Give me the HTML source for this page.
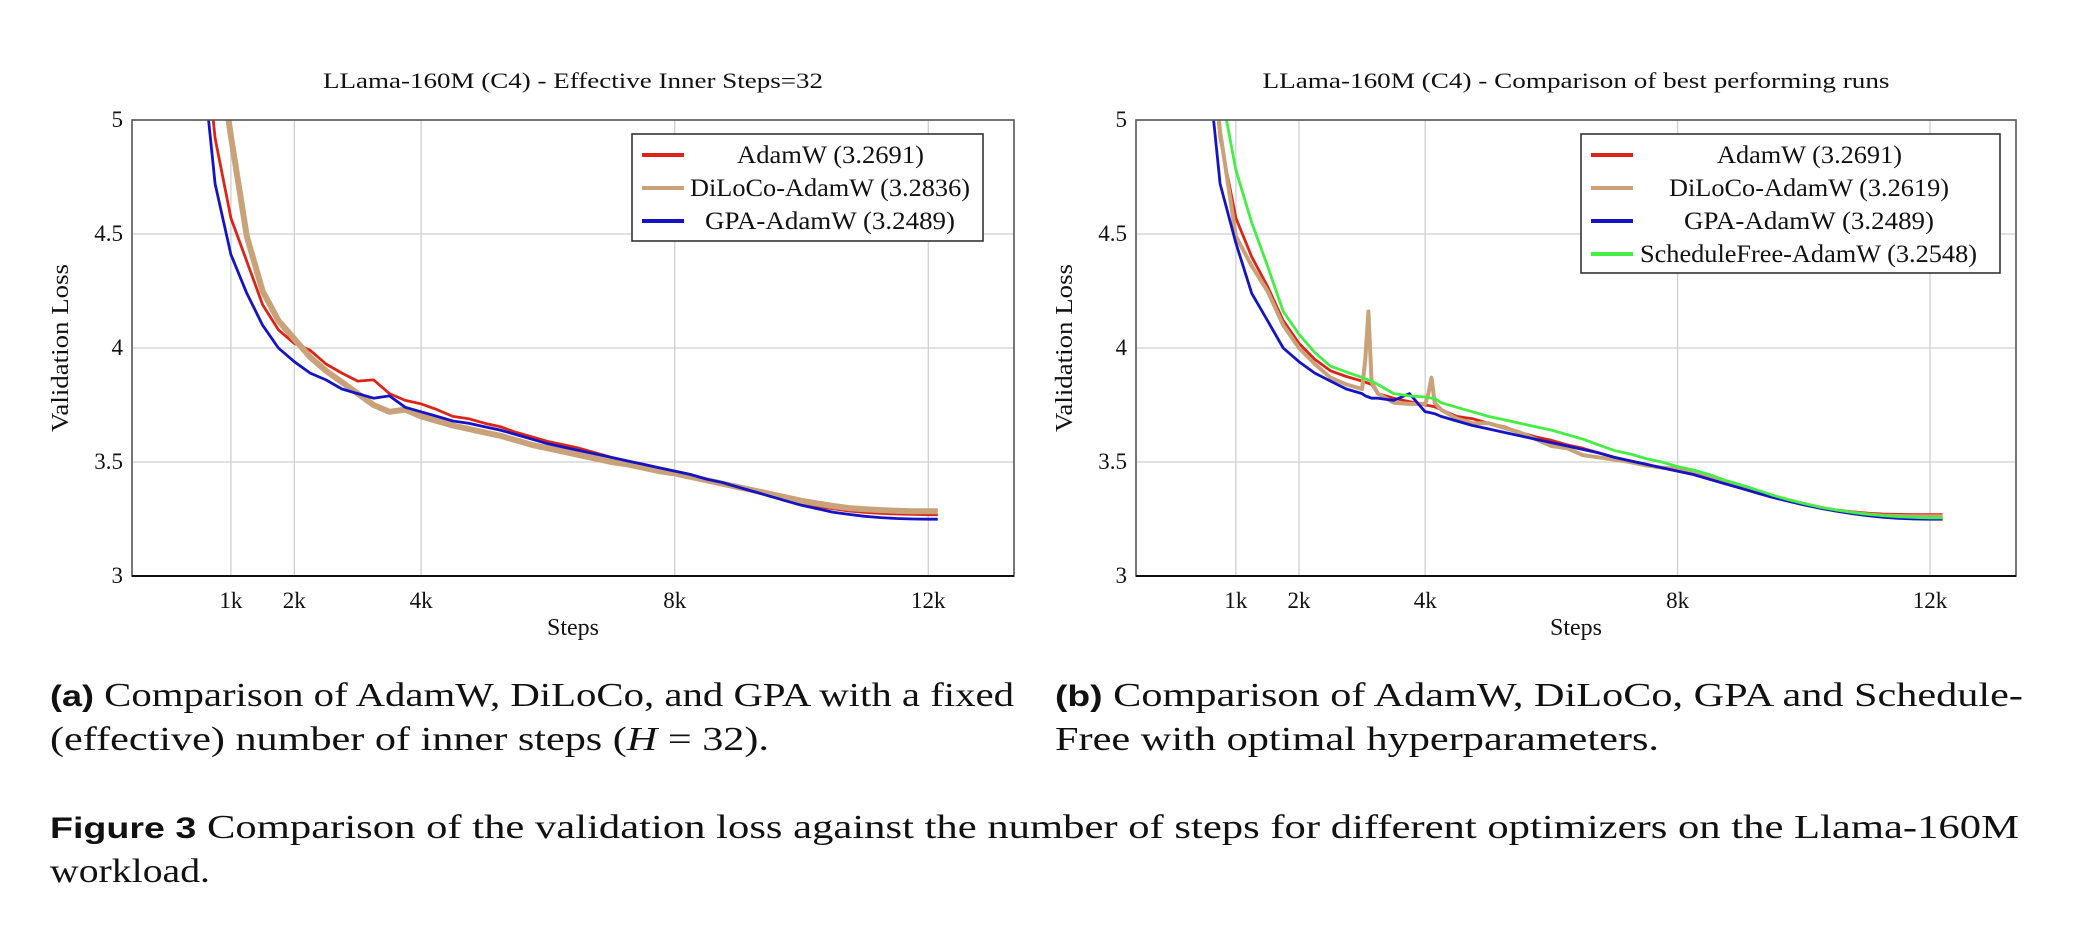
<!DOCTYPE html>
<html><head><meta charset="utf-8"><style>
html,body{margin:0;padding:0;background:#fff;}
svg{display:block;}
text{font-family:"Liberation Serif",serif;fill:#111;}
.sans{font-family:"Liberation Sans",sans-serif;font-weight:bold;}
</style></head><body>
<svg id="fig" width="2076" height="938" viewBox="0 0 2076 938">
<defs>
<clipPath id="clipL"><rect x="132" y="120" width="882" height="456"/></clipPath>
<clipPath id="clipR"><rect x="1136" y="120" width="880" height="456"/></clipPath>
</defs>
<g id="chartL"></g>
<g id="chartR"></g>
<text x="50" y="706" font-size="34" textLength="964" lengthAdjust="spacingAndGlyphs"><tspan class="sans" font-size="30">(a)</tspan> Comparison of AdamW, DiLoCo, and GPA with a fixed</text>
<text x="50" y="750" font-size="34" textLength="719" lengthAdjust="spacingAndGlyphs">(effective) number of inner steps (<tspan font-style="italic">H</tspan> = 32).</text>
<text x="1055" y="706" font-size="34" textLength="968" lengthAdjust="spacingAndGlyphs"><tspan class="sans" font-size="30">(b)</tspan> Comparison of AdamW, DiLoCo, GPA and Schedule-</text>
<text x="1055" y="750" font-size="34" textLength="604" lengthAdjust="spacingAndGlyphs">Free with optimal hyperparameters.</text>
<text x="50" y="838" font-size="34" textLength="1969" lengthAdjust="spacingAndGlyphs"><tspan class="sans" font-size="30">Figure 3</tspan> Comparison of the validation loss against the number of steps for different optimizers on the Llama-160M</text>
<text x="50" y="882" font-size="34" textLength="160" lengthAdjust="spacingAndGlyphs">workload.</text>
</svg>
<script>
const leftSteps=[500,750,1000,1250,1500,1750,2000,2250,2500,2750,3000,3250,3500,3750,4000,4250,4500,4750,5000,5250,5500,5750,6000,6250,6500,6750,7000,7250,7500,7750,8000,8250,8500,8750,9000,9250,9500,9750,10000,10250,10500,10750,11000,11250,11500,11750,12000,12150];
const leftAdamW=[5.6,4.92,4.57,4.38,4.19,4.08,4.02,3.99,3.93,3.89,3.855,3.86,3.80,3.77,3.755,3.73,3.70,3.69,3.67,3.655,3.63,3.61,3.59,3.575,3.56,3.54,3.52,3.505,3.49,3.475,3.46,3.445,3.425,3.41,3.39,3.37,3.35,3.335,3.318,3.305,3.295,3.285,3.279,3.275,3.272,3.270,3.269,3.269];
const leftDiLoCo=[6.2,5.4,4.93,4.49,4.25,4.12,4.04,3.96,3.9,3.85,3.80,3.75,3.72,3.73,3.70,3.68,3.66,3.645,3.63,3.615,3.595,3.575,3.56,3.545,3.53,3.515,3.50,3.49,3.475,3.46,3.45,3.435,3.42,3.405,3.39,3.375,3.36,3.345,3.33,3.318,3.307,3.298,3.293,3.289,3.286,3.284,3.284,3.284];
const leftGPA=[5.4,4.72,4.41,4.24,4.1,4.0,3.94,3.89,3.86,3.82,3.80,3.78,3.79,3.74,3.72,3.70,3.68,3.67,3.655,3.64,3.62,3.6,3.58,3.565,3.55,3.535,3.52,3.505,3.49,3.475,3.46,3.445,3.425,3.41,3.39,3.37,3.35,3.33,3.31,3.295,3.28,3.27,3.262,3.256,3.252,3.25,3.249,3.249];

const rightSteps=[500,750,1000,1250,1500,1750,2000,2250,2500,2750,3000,3050,3100,3150,3250,3500,3750,4000,4050,4100,4150,4250,4500,4750,5000,5250,5500,5750,6000,6250,6500,6750,7000,7250,7500,7750,8000,8250,8500,8750,9000,9250,9500,9750,10000,10250,10500,10750,11000,11250,11500,11750,12000,12200];
const rightAdamW=[5.6,4.92,4.57,4.4,4.27,4.12,4.02,3.95,3.9,3.875,3.855,3.85,3.845,3.84,3.80,3.78,3.765,3.75,3.748,3.745,3.742,3.73,3.70,3.69,3.67,3.655,3.63,3.61,3.595,3.575,3.56,3.54,3.52,3.505,3.49,3.475,3.46,3.445,3.425,3.405,3.385,3.365,3.345,3.33,3.315,3.3,3.29,3.282,3.276,3.272,3.27,3.269,3.269,3.269];
const rightDiLoCo=[5.6,4.95,4.49,4.36,4.25,4.1,4.0,3.93,3.87,3.84,3.82,3.95,4.16,3.85,3.80,3.76,3.755,3.755,3.80,3.87,3.76,3.73,3.69,3.67,3.67,3.65,3.63,3.6,3.57,3.56,3.53,3.52,3.51,3.50,3.485,3.475,3.47,3.45,3.43,3.41,3.39,3.37,3.35,3.333,3.316,3.3,3.288,3.278,3.27,3.265,3.263,3.262,3.262,3.262];
const rightGPA=[5.4,4.72,4.46,4.24,4.12,4.0,3.94,3.89,3.855,3.82,3.80,3.79,3.785,3.78,3.78,3.77,3.80,3.72,3.718,3.715,3.712,3.70,3.68,3.66,3.645,3.63,3.615,3.60,3.585,3.57,3.555,3.54,3.52,3.505,3.49,3.475,3.46,3.445,3.425,3.405,3.385,3.365,3.345,3.328,3.312,3.298,3.285,3.274,3.265,3.258,3.253,3.25,3.249,3.249];
const rightSF=[5.9,5.15,4.78,4.55,4.36,4.16,4.06,3.98,3.92,3.895,3.87,3.865,3.86,3.855,3.84,3.80,3.79,3.785,3.783,3.78,3.778,3.76,3.74,3.72,3.70,3.685,3.67,3.655,3.64,3.62,3.6,3.575,3.55,3.535,3.515,3.50,3.48,3.465,3.445,3.42,3.40,3.378,3.355,3.335,3.318,3.302,3.29,3.28,3.271,3.265,3.26,3.257,3.255,3.255];

const xTicks=[1000,2000,4000,8000,12000];
const xTickLabels=["1k","2k","4k","8k","12k"];
const yTicks=[3,3.5,4,4.5,5];
const yTickLabels=["3","3.5","4","4.5","5"];
const legendLeft=["AdamW (3.2691)","DiLoCo-AdamW (3.2836)","GPA-AdamW (3.2489)"];
const legendRight=["AdamW (3.2691)","DiLoCo-AdamW (3.2619)","GPA-AdamW (3.2489)","ScheduleFree-AdamW (3.2548)"];

const NS="http://www.w3.org/2000/svg";
function mk(parent,tag,attrs,txt){const e=document.createElementNS(NS,tag);for(const k in attrs)e.setAttribute(k,attrs[k]);if(txt!==undefined)e.textContent=txt;parent.appendChild(e);return e;}

function drawChart(g,cfg){
  const L=cfg.left,R=cfg.right,T=120,B=576;
  const xs=s=>cfg.x2k+(s-2000)*cfg.k;
  const ys=v=>B-(v-3)*(B-T)/2;
  xTicks.forEach((t,i)=>{
    const gl=mk(g,'line',{x1:xs(t),x2:xs(t),y1:T,y2:B,stroke:'#cfcfcf','stroke-width':1.3});
    
    
    const tl=mk(g,'text',{x:xs(t),y:B+32,'font-size':23,'text-anchor':'middle'},xTickLabels[i]);
    
    
  });
  yTicks.forEach((t,i)=>{
    const gl=mk(g,'line',{x1:L,x2:R,y1:ys(t),y2:ys(t),stroke:'#cfcfcf','stroke-width':1.3});
    
    
    const tl=mk(g,'text',{x:L-9,y:ys(t)+7,'font-size':23,'text-anchor':'end'},yTickLabels[i]);
    
    
  });
  const sg=mk(g,'g',{'clip-path':cfg.clip});
  
  
  cfg.series.forEach(s=>{
    const d=cfg.steps.map((st,i)=>(i?'L':'M')+xs(st).toFixed(1)+','+ys(s.vals[i]).toFixed(1)).join(' ');
    const p=mk(sg,'path',{d:d,fill:'none',stroke:s.color,'stroke-width':s.w,'stroke-linejoin':'round'});
    
    
  });
  const fr=mk(g,'rect',{x:L,y:T,width:R-L,height:B-T,fill:'none',stroke:'#555','stroke-width':1.6});
  
  
  const bx=mk(g,'line',{x1:L,x2:R,y1:B,y2:B,stroke:'#111','stroke-width':2});
  
  
  const ti=mk(g,'text',{x:(L+R)/2,y:88,'font-size':22,'text-anchor':'middle',textLength:cfg.titleLen,lengthAdjust:'spacingAndGlyphs'},cfg.title);
  
  
  const xt=mk(g,'text',{x:(L+R)/2,y:635,'font-size':24,'text-anchor':'middle'},'Steps');
  
  
  const yt=mk(g,'text',{x:0,y:0,'font-size':24,'text-anchor':'middle',textLength:168,lengthAdjust:'spacingAndGlyphs',transform:'translate('+(cfg.ylabX)+',348) rotate(-90)'},'Validation Loss');
  
  
  const lg=mk(g,'g',{});
  
  
  const lb=mk(lg,'rect',{x:cfg.legX,y:134,width:cfg.legW,height:cfg.legH,fill:'#fff',stroke:'#333','stroke-width':1.6});
  
  
  cfg.series.forEach((s,i)=>{
    const yy=155+i*33;
    const ls=mk(lg,'line',{x1:cfg.legX+10,x2:cfg.legX+52,y1:yy,y2:yy,stroke:s.color,'stroke-width':4});
    
    
    const lt=mk(lg,'text',{x:cfg.legTextX[i],y:yy+8,'font-size':25,textLength:cfg.legTextW[i],lengthAdjust:'spacingAndGlyphs'},cfg.labels[i]);
    
    
  });
}

drawChart(document.getElementById('chartL'),{
  left:132,right:1014,x2k:294.3,k:0.0634,clip:'url(#clipL)',ylabX:68,
  title:'LLama-160M (C4) - Effective Inner Steps=32',titleLen:500,
  steps:leftSteps,legX:632,legW:351,legH:107,labels:legendLeft,
  legTextX:[737,690,705],legTextW:[187,280,250],
  series:[
    {name:'adamw-line',vals:leftAdamW,color:'#dd2418',w:2.8},
    {name:'diloco-adamw-line',vals:leftDiLoCo,color:'#c9a27a',w:6},
    {name:'gpa-adamw-line',vals:leftGPA,color:'#1414c4',w:2.8}
  ]
});
drawChart(document.getElementById('chartR'),{
  left:1136,right:2016,x2k:1299,k:0.0631,clip:'url(#clipR)',ylabX:1072,
  title:'LLama-160M (C4) - Comparison of best performing runs',titleLen:627,
  steps:rightSteps,legX:1581,legW:419,legH:139,labels:legendRight,
  legTextX:[1717,1669,1684,1640],legTextW:[185,280,250,337],
  series:[
    {name:'adamw-line',vals:rightAdamW,color:'#dd2418',w:2.8},
    {name:'diloco-adamw-line',vals:rightDiLoCo,color:'#c9a27a',w:4},
    {name:'gpa-adamw-line',vals:rightGPA,color:'#1414c4',w:2.8},
    {name:'schedulefree-adamw-line',vals:rightSF,color:'#44ee44',w:2.8}
  ]
});
</script>
</body></html>
